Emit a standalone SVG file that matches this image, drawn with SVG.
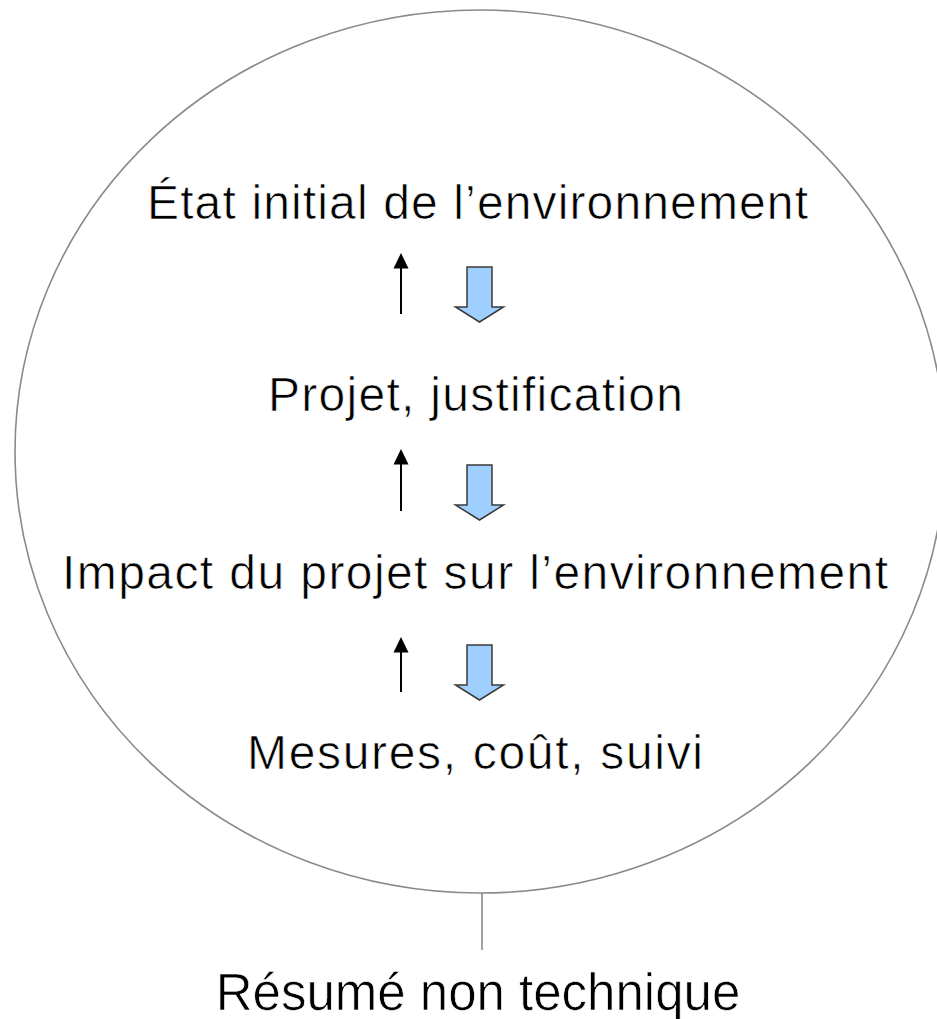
<svg xmlns="http://www.w3.org/2000/svg" width="937" height="1019" viewBox="0 0 937 1019">
  <style>
    /* labels: a thin white outline trims the glyph weight slightly */
    .lbl { font-family: "Liberation Sans", Arial, sans-serif; font-size: 48px; fill: #000; text-anchor: middle; stroke: #fff; stroke-width: 0.7; }
    .outline { fill: none; stroke: #8a8a8a; stroke-width: 1.6; }
    .thin { stroke: #000; stroke-width: 2; }
    .block { fill: #9fcfff; stroke: #3a3a3a; stroke-width: 1.5; stroke-linejoin: miter; }
  </style>
  <defs>
    <!-- downward block arrow, origin at top centre of the shaft -->
    <path id="down" d="M-12.5,0 H12.5 V40 H24 L0,55 L-24,40 H-12.5 Z"/>
    <!-- small solid head for the thin upward arrows, origin at the tip -->
    <path id="uphead" d="M0,0 L7.5,15.5 L-7.5,15.5 Z"/>
  </defs>

  <rect width="937" height="1019" fill="#fff"/>

  <!-- enclosing ellipse and its stem -->
  <g id="enclosure">
    <ellipse class="outline" cx="480" cy="451.5" rx="465" ry="441.5"/>
    <line class="outline" x1="482" y1="893" x2="482" y2="950"/>
  </g>

  <g id="node-etat">
    <text class="lbl" x="477.5" y="219" textLength="661" lengthAdjust="spacing">État initial de l’environnement</text>
  </g>
  <g id="node-projet">
    <text class="lbl" x="475.5" y="411" textLength="415" lengthAdjust="spacing">Projet, justification</text>
  </g>
  <g id="node-impact">
    <text class="lbl" x="475" y="589" textLength="826" lengthAdjust="spacing">Impact du projet sur l’environnement</text>
  </g>
  <g id="node-mesures">
    <text class="lbl" x="475" y="769" textLength="456" lengthAdjust="spacing">Mesures, coût, suivi</text>
  </g>
  <g id="node-resume">
    <text class="lbl" x="478" y="1010" style="font-size:51px">Résumé non technique</text>
  </g>

  <g id="connectors">
    <!-- upward thin arrows -->
    <line class="thin" x1="401" y1="314" x2="401" y2="267"/>
    <use href="#uphead" x="401" y="253"/>
    <line class="thin" x1="401" y1="511" x2="401" y2="463"/>
    <use href="#uphead" x="401" y="449"/>
    <line class="thin" x1="401" y1="692" x2="401" y2="651"/>
    <use href="#uphead" x="401" y="637"/>
    <!-- downward block arrows -->
    <use href="#down" class="block" x="479.5" y="267"/>
    <use href="#down" class="block" x="479.5" y="465"/>
    <use href="#down" class="block" x="479.5" y="645"/>
  </g>
</svg>
